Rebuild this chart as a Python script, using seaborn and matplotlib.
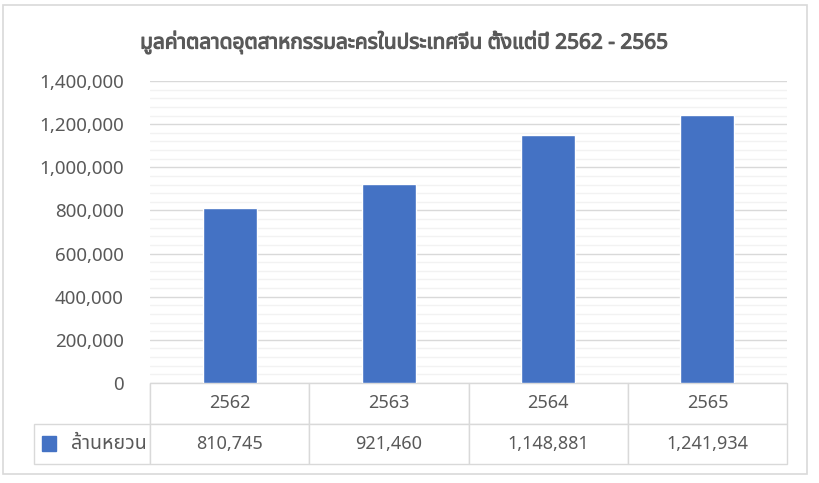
import matplotlib
matplotlib.use("Agg")
import matplotlib.pyplot as plt
import matplotlib.ticker as mticker
import matplotlib.patheffects as pe
from matplotlib.patches import Rectangle
import pandas as pd
import seaborn as sns

# ข้อมูล
years = ["2562", "2563", "2564", "2565"]
values = [810745, 921460, 1148881, 1241934]
series_name = "ล้านหยวน"
title = "มูลค่าตลาดอุตสาหกรรมละครในประเทศจีน ตั้งแต่ปี 2562 - 2565"

sns.set_style("white")
plt.rcParams["font.family"] = ["Noto Sans Thai", "DejaVu Sans"]

grey = "#595959"
line = "#D9D9D9"
blue = "#4472C4"

df = pd.DataFrame({"year": years, "value": values})

fig = plt.figure(figsize=(8.2, 4.83), dpi=100)
ax = fig.add_axes([150 / 820, 1 - 383 / 483, 637 / 820, 302 / 483])

sns.barplot(data=df, x="year", y="value", color=blue, width=0.34,
            saturation=1, ax=ax, zorder=3)

ax.set_ylim(0, 1400000)
ax.set_xlim(-0.5, 3.5)
ax.yaxis.set_major_locator(mticker.MultipleLocator(200000))
ax.yaxis.set_minor_locator(mticker.MultipleLocator(40000))
ax.yaxis.set_major_formatter(mticker.FuncFormatter(lambda v, p: f"{int(v):,}"))
ax.grid(axis="y", which="major", color=line, lw=1, zorder=0)
ax.grid(axis="y", which="minor", color="#F2F2F2", lw=1, zorder=0)
ax.tick_params(axis="y", which="both", length=0, pad=19, labelsize=13.5, labelcolor=grey)
ax.set_xticks([])
ax.set_xlabel("")
ax.set_ylabel("")
for s in ax.spines.values():
    s.set_visible(False)

# ตารางข้อมูลใต้กราฟ
labels = [f"{v:,}" for v in values]
lw_frac = 116 / 637
tb = ax.table(cellText=[[""] + years, [series_name] + labels],
              cellLoc="center", colWidths=[lw_frac] + [0.25] * 4,
              bbox=[-lw_frac, -81 / 302, 1 + lw_frac, 81 / 302])
tb.auto_set_font_size(False)
tb.set_fontsize(13)
for (r, c), cell in tb.get_celld().items():
    cell.set_edgecolor(line)
    cell.set_linewidth(1)
    cell.get_text().set_color(grey)
    if (r, c) == (0, 0):
        cell.visible_edges = "R"
    if (r, c) == (1, 0):
        cell.PAD = 0.03
        cell.get_text().set_ha("right")
        cell._loc = "right"
        cell.get_text().set_fontsize(14)

ax.add_patch(Rectangle((-108 / 637, -68 / 302), 14 / 637, 15 / 302,
                       transform=ax.transAxes, color=blue, clip_on=False))

fig.text(0.493, 0.913, title, ha="center", va="center", fontsize=15,
         color=grey,
         path_effects=[pe.withStroke(linewidth=0.8, foreground=grey)])

fig.patches.append(Rectangle((3 / 820, 1 - 474 / 483), 804 / 820, 469 / 483,
                             transform=fig.transFigure, fill=False,
                             edgecolor=line, lw=1.2))

fig.savefig("out.png", dpi=100)
